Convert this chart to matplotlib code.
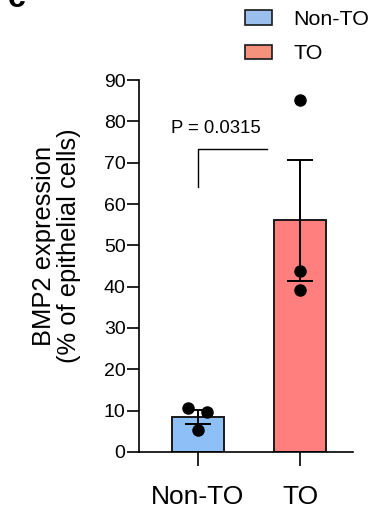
import matplotlib.pyplot as plt
import numpy as np
from matplotlib.patches import Patch

plt.rcParams['font.family'] = ['Liberation Sans', 'DejaVu Sans']

# Individual values
groups = ['Non-TO', 'TO']
non_to_values = [10.6, 9.6, 5.3]
to_values = [85.2, 43.9, 39.2]
p_text = 'P = 0.0315'
y_ticks = [0, 10, 20, 30, 40, 50, 60, 70, 80, 90]

bar_colors = ['#8fbff7', '#ff7f7f']
legend_colors = ['#9bbfec', '#f5927c']

samples = [np.array(non_to_values), np.array(to_values)]
means = [s.mean() for s in samples]
sems = [s.std(ddof=1) / np.sqrt(len(s)) for s in samples]

fig = plt.figure(figsize=(3.88, 5.13), dpi=100)
ax = fig.add_axes([0.358, 0.119, 0.552, 0.725])

x = np.arange(len(groups))
ax.bar(x, means, width=0.51, color=bar_colors, edgecolor='#1a1a1a', linewidth=1.4, zorder=2)
ax.errorbar(x, means, yerr=sems, fmt='none', ecolor='black', elinewidth=1.4,
            capsize=9.5, capthick=1.4, zorder=3)

# scatter of individual points (small horizontal offsets for the overlapping ones)
jitter = [[-0.1, 0.09, 0.0], [0.0, 0.0, 0.0]]
for i, s in enumerate(samples):
    ax.plot(x[i] + np.array(jitter[i]), s, 'o', color='black', markersize=8, zorder=4,
            clip_on=False)

# significance bracket
ax.plot([0, 0, 0.68], [64, 73.4, 73.4], color='black', linewidth=1.0)
ax.text(0.18, 76.2, p_text, ha='center', va='bottom', fontsize=13.3)

ax.set_xlim(-0.578, 1.52)
ax.set_ylim(0, 90)
ax.set_yticks(y_ticks)
ax.set_xticks(x)
ax.set_xticklabels(groups, fontsize=19)
ax.tick_params(axis='y', labelsize=14, length=8.6, width=1.2, pad=1)
ax.tick_params(axis='x', length=10, width=1.2, pad=14)
ax.spines['top'].set_visible(False)
ax.spines['right'].set_visible(False)
for sp in ['left', 'bottom']:
    ax.spines[sp].set_linewidth(1.2)

ax.set_ylabel('BMP2 expression\n(% of epithelial cells)', fontsize=18.4, linespacing=1.05)
ax.yaxis.set_label_coords(-0.27, 0.555)

handles = [Patch(facecolor=c, edgecolor='#1a1a1a', linewidth=1.2) for c in legend_colors]
fig.legend(handles, groups, loc='upper left', bbox_to_anchor=(245 / 388, 1 - 10 / 513),
           frameon=False, fontsize=15.4, handlelength=1.26, handleheight=0.65,
           handletextpad=1.0, labelspacing=0.72, borderpad=0, borderaxespad=0)

# panel letter, cut by the top edge as in the source figure
fig.text(8 / 388, 1 - 7 / 513, 'c', fontsize=23, fontweight='bold', ha='left', va='baseline')

fig.savefig('out.png', dpi=100)
